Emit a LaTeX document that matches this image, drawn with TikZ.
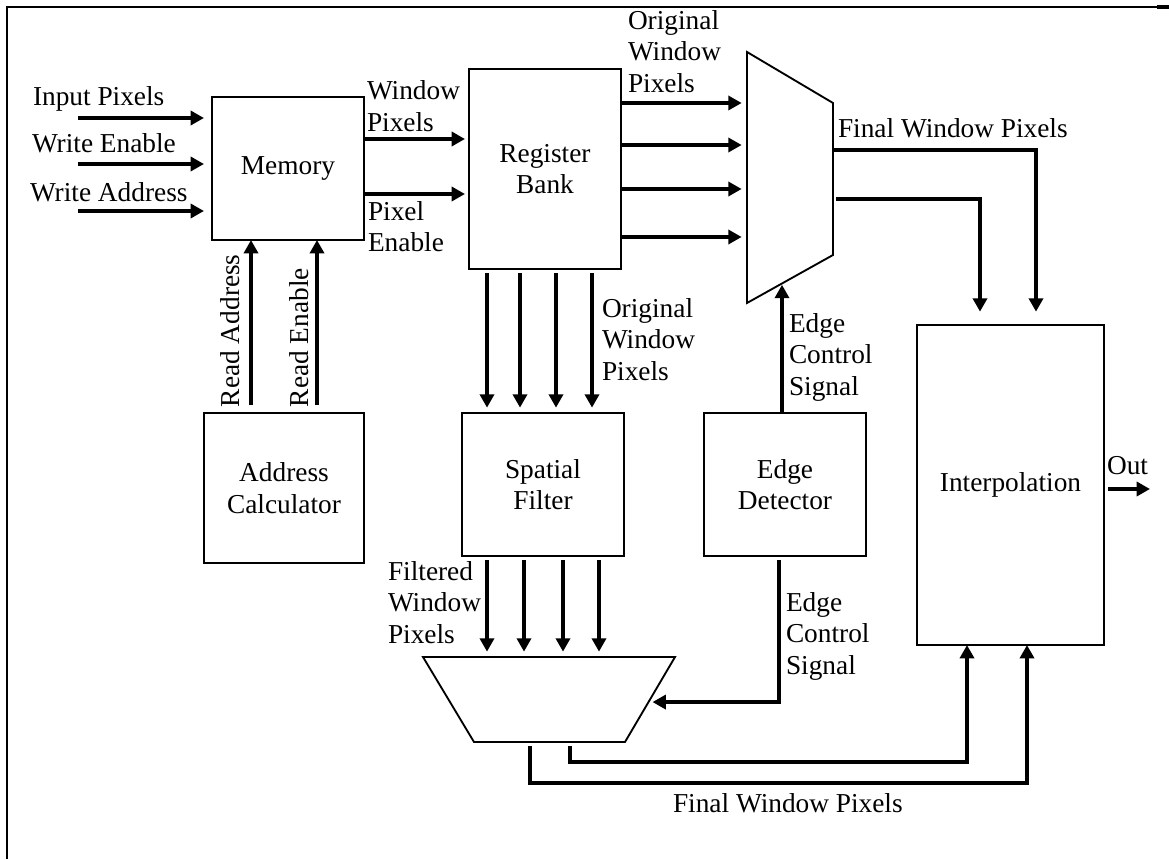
\documentclass[tikz,border=0pt]{standalone}
\usepackage{fontspec}
\setmainfont{Liberation Serif}
\usetikzlibrary{arrows.meta,calc}
\begin{document}
\begin{tikzpicture}[x=0.75pt,y=-0.75pt,
  every node/.style={font=\fontsize{20.5}{23.6}\selectfont, inner sep=0pt, outer sep=0pt},
  block/.style={draw, line width=1.4pt, align=center},
  wire/.style={line width=2.6pt},
  arr/.style={wire, -{Triangle[length=10pt,width=10.5pt]}},
  lbl/.style={align=left, anchor=north west},
  txt/.style={anchor=base west},
]
\useasboundingbox (0,0) rectangle (1169,859);

% page frame
\draw[line width=1.6pt] (7,859) -- (7,7) -- (1158,7);
\draw[line width=3pt] (1157,7.5) -- (1169,7.5);

% blocks
\node[block, minimum width=114pt, minimum height=107.25pt] (mem) at (288,168.5) {Memory};
\node[block, minimum width=114pt, minimum height=150pt] (rb) at (545,169) {Register\\Bank};
\node[block, minimum width=120pt, minimum height=112.5pt] (ac) at (284,488) {Address\\Calculator};
\node[block, minimum width=121.5pt, minimum height=107.25pt] (sf) at (543,484.5) {Spatial\\Filter};
\node[block, minimum width=121.5pt, minimum height=107.25pt] (ed) at (785,484.5) {Edge\\Detector};
\node[block, minimum width=140.25pt, minimum height=240pt] (ip) at (1010.5,485) {Interpolation};

% multiplexers
\coordinate (mA) at (747,52);  \coordinate (mB) at (833,103);
\coordinate (mC) at (833,255); \coordinate (mD) at (747,303);
\draw[line width=1.4pt] (mA) -- (mB) -- (mC) -- (mD) -- cycle;
\coordinate (nA) at (423,657); \coordinate (nB) at (675,657);
\coordinate (nC) at (625,742); \coordinate (nD) at (474,742);
\draw[line width=1.4pt] (nA) -- (nB) -- (nC) -- (nD) -- cycle;

% input signals of the memory
\coordinate (in1) at (78,118); \coordinate (in2) at (78,164); \coordinate (in3) at (78,211);
\foreach \c in {in1,in2,in3}
  \draw[arr, shorten >=6pt] (\c) -- (\c -| mem.west);
\node[txt] (lip) at (33,106) {Input Pixels};
\node[txt] (lwe) at (32,153) {Write Enable};
\node[txt] (lwa) at (30,202) {Write Address};

% memory -> register bank
\coordinate (wp) at (0,139); \coordinate (pe) at (0,194);
\draw[arr, shorten >=3pt] (wp -| mem.east) -- (wp -| rb.west);
\draw[arr, shorten >=3pt] (pe -| mem.east) -- (pe -| rb.west);
\node[lbl] (lwp) at (367,81) {Window\\Pixels};
\node[lbl] (lpe) at (368,201.5) {Pixel\\Enable};

% address calculator -> memory
\coordinate (ra) at (251,0); \coordinate (re) at (317,0);
\draw[arr, shorten <=6pt] (ra |- ac.north) -- (ra |- mem.south);
\draw[arr, shorten <=6pt] (re |- ac.north) -- (re |- mem.south);
\node[txt, rotate=90] (lra) at (239,407) {Read Address};
\node[txt, rotate=90] (lre) at (308,407) {Read Enable};

% register bank -> top multiplexer
\foreach \y/\n in {103/r1,145/r2,189/r3,237/r4} {
  \coordinate (\n) at (0,\y);
  \draw[arr, shorten >=4pt] (\n -| rb.east) -- (\n -| mA);
}
\node[lbl] (low1) at (628,10.3) {Original\\Window\\Pixels};

% register bank -> spatial filter
\foreach \x/\n in {487/c1,520/c2,556/c3,592/c4} {
  \coordinate (\n) at (\x,0);
  \draw[arr, shorten <=3pt, shorten >=4pt] (\n |- rb.south) -- (\n |- sf.north);
}
\node[lbl] (low2) at (602,298.3) {Original\\Window\\Pixels};

% spatial filter -> bottom multiplexer
\foreach \x/\n in {487/d1,524/d2,563/d3,599/d4} {
  \coordinate (\n) at (\x,0);
  \draw[arr, shorten <=3pt, shorten >=4pt] (\n |- sf.south) -- (\n |- nA);
}
\node[lbl] (lfw) at (388,561.3) {Filtered\\Window\\Pixels};

% edge detector -> top multiplexer
\coordinate (ein) at ($(mD)!0.407!(mC)$);
\draw[arr, shorten >=1pt] (ein |- ed.north) -- (ein);
\node[lbl] (lec1) at (789,313.3) {Edge\\Control\\Signal};

% edge detector -> bottom multiplexer
\coordinate (eo) at (779,0);
\coordinate (nin) at ($(nB)!0.53!(nC)$);
\draw[arr, shorten <=3pt, shorten >=3pt] (eo |- ed.south) |- (nin);
\node[lbl] (lec2) at (786,592.3) {Edge\\Control\\Signal};

% top multiplexer -> interpolation
\coordinate (fo1) at (833,150); \coordinate (fo2) at (836,199);
\coordinate (fi1) at (1036,0);  \coordinate (fi2) at (980,0);
\draw[arr, shorten >=10pt] (fo1) -| (fi1 |- ip.north);
\draw[arr, shorten >=10pt] (fo2) -| (fi2 |- ip.north);
\node[txt] (lfw1) at (838,138) {Final Window Pixels};

% bottom multiplexer -> interpolation
\coordinate (bo1) at (570,746); \coordinate (bo2) at (530,746);
\coordinate (lv1) at (0,762);   \coordinate (lv2) at (0,783);
\coordinate (bi1) at (967,0);   \coordinate (bi2) at (1027,0);
\draw[arr] (bo1) -- (bo1 |- lv1) -| (bi1 |- ip.south);
\draw[arr] (bo2) -- (bo2 |- lv2) -| (bi2 |- ip.south);
\node[txt] (lfw2) at (673,812) {Final Window Pixels};

% output
\coordinate (oe) at (1150,489);
\draw[arr, shorten <=3pt] (oe -| ip.east) -- (oe);
\node[txt] (lout) at (1107,474) {Out};
\end{tikzpicture}
\end{document}
